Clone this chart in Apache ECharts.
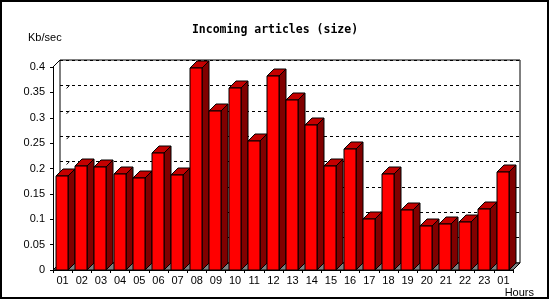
<!DOCTYPE html>
<html>
<head>
<meta charset="utf-8">
<script src="https://cdn.jsdelivr.net/npm/echarts@6/dist/echarts.min.js"></script>
<style>html,body{margin:0;padding:0;background:#fff}#c{width:550px;height:300px}</style>
</head>
<body>
<div id="c"></div>
<script>
const titleText = 'Incoming articles (size)';
const yUnit = 'Kb/sec';
const xUnit = 'Hours';
const hours = ['01','02','03','04','05','06','07','08','09','10','11','12','13','14','15','16','17','18','19','20','21','22','23','01'];
const sizeValues = [0.185,0.205,0.203,0.189,0.181,0.230,0.187,0.399,0.313,0.359,0.254,0.382,0.335,0.286,0.205,0.238,0.100,0.189,0.118,0.087,0.091,0.095,0.120,0.193];
const yTicks = [0.05,0.1,0.15,0.2,0.25,0.3,0.35];

const D = 7;
const font = 'Liberation Sans';
const chart = echarts.init(document.getElementById('c'), null, {renderer:'canvas'});

function barItem(params, api){
  const c = api.coord([api.value(0), api.value(1)]);
  const b = api.coord([api.value(0), 0]);
  const w = api.size([1,0])[0];
  const x0 = Math.round(c[0] - 0.34*w);
  const x1 = x0 + Math.round(0.63*w);
  const t = Math.round(c[1]);
  const bt = b[1];
  const st = {stroke:'#000', lineWidth:1};
  return {type:'group', children:[
    {type:'polygon', shape:{points:[[x1,t],[x1+D,t-D],[x1+D,bt-D],[x1,bt]]}, style:Object.assign({fill:'#800000'},st)},
    {type:'polygon', shape:{points:[[x0,t],[x1,t],[x1+D,t-D],[x0+D,t-D]]}, style:Object.assign({fill:'#c40000'},st)},
    {type:'rect', shape:{x:x0, y:t, width:x1-x0, height:bt-t}, style:Object.assign({fill:'#ff0000'},st)}
  ]};
}

function floorItem(params, api){
  const cs = params.coordSys;
  const L = cs.x, R = cs.x + cs.width, B = cs.y + cs.height, T = cs.y;
  return {type:'group', children:[
    {type:'polygon', shape:{points:[[L,B],[R,B],[R+D,B-D],[L+D,B-D]]}, style:{fill:'#808080', stroke:'#000', lineWidth:1}},
    {type:'line', shape:{x1:L, y1:T, x2:L+D, y2:T-D}, style:{stroke:'#000', lineWidth:1}}
  ]};
}

function wallTick(params, api){
  const p = api.coord([0, api.value(0)]);
  return {type:'line', shape:{x1:p[0]+4, y1:p[1]-4, x2:p[0]+D, y2:p[1]-D}, style:{stroke:'#000', lineWidth:1}};
}

chart.setOption({
  animation:false,
  backgroundColor:'#fff',
  title:{text:titleText, left:'center', top:19, itemGap:0,
    textStyle:{fontFamily:'DejaVu Sans Mono', fontWeight:'bold', fontSize:11.5, color:'#000'}},
  grid:[
    {left:53, right:37, top:67, bottom:30},
    {left:60, right:30, top:60, bottom:37, show:true, borderColor:'#000', borderWidth:1, backgroundColor:'transparent'}
  ],
  xAxis:[
    {type:'category', gridIndex:0, data:hours, boundaryGap:true,
      axisLine:{show:true, lineStyle:{color:'#000', width:1}},
      axisTick:{show:true, length:3, lineStyle:{color:'#000'}},
      axisLabel:{color:'#000', fontFamily:font, fontSize:11, margin:5, interval:0},
      splitLine:{show:false}},
    {type:'category', gridIndex:1, data:hours, show:false}
  ],
  yAxis:[
    {type:'value', gridIndex:0, min:0, max:0.4, interval:0.05,
      axisLine:{show:true, lineStyle:{color:'#000', width:1}},
      axisTick:{show:true, length:3, lineStyle:{color:'#000'}},
      axisLabel:{color:'#000', fontFamily:font, fontSize:11, margin:8},
      splitLine:{show:false}},
    {type:'value', gridIndex:1, min:0, max:0.4, interval:0.05,
      axisLine:{show:false}, axisTick:{show:false}, axisLabel:{show:false},
      splitLine:{show:true, lineStyle:{color:'#000', type:[3,3], width:1}}}
  ],
  graphic:[
    {type:'rect', shape:{x:1, y:1, width:547, height:297}, style:{fill:'none', stroke:'#000', lineWidth:2}, z:100},
    {type:'text', left:28, top:32, style:{text:yUnit, fontFamily:font, fontSize:11, fill:'#000'}},
    {type:'text', right:16, top:287, style:{text:xUnit, fontFamily:font, fontSize:11, fill:'#000'}}
  ],
  series:[
    {type:'custom', xAxisIndex:0, yAxisIndex:0, renderItem:floorItem, data:[[0,0]], z:1, silent:true},
    {type:'custom', xAxisIndex:0, yAxisIndex:0, renderItem:wallTick, data:yTicks.map(v=>[v]), encode:{y:0}, z:1, silent:true},
    {type:'custom', xAxisIndex:0, yAxisIndex:0, renderItem:barItem,
      data:sizeValues.map((v,i)=>[i,v]), encode:{x:0, y:1}, z:3, silent:true}
  ]
});
</script>
</body>
</html>
